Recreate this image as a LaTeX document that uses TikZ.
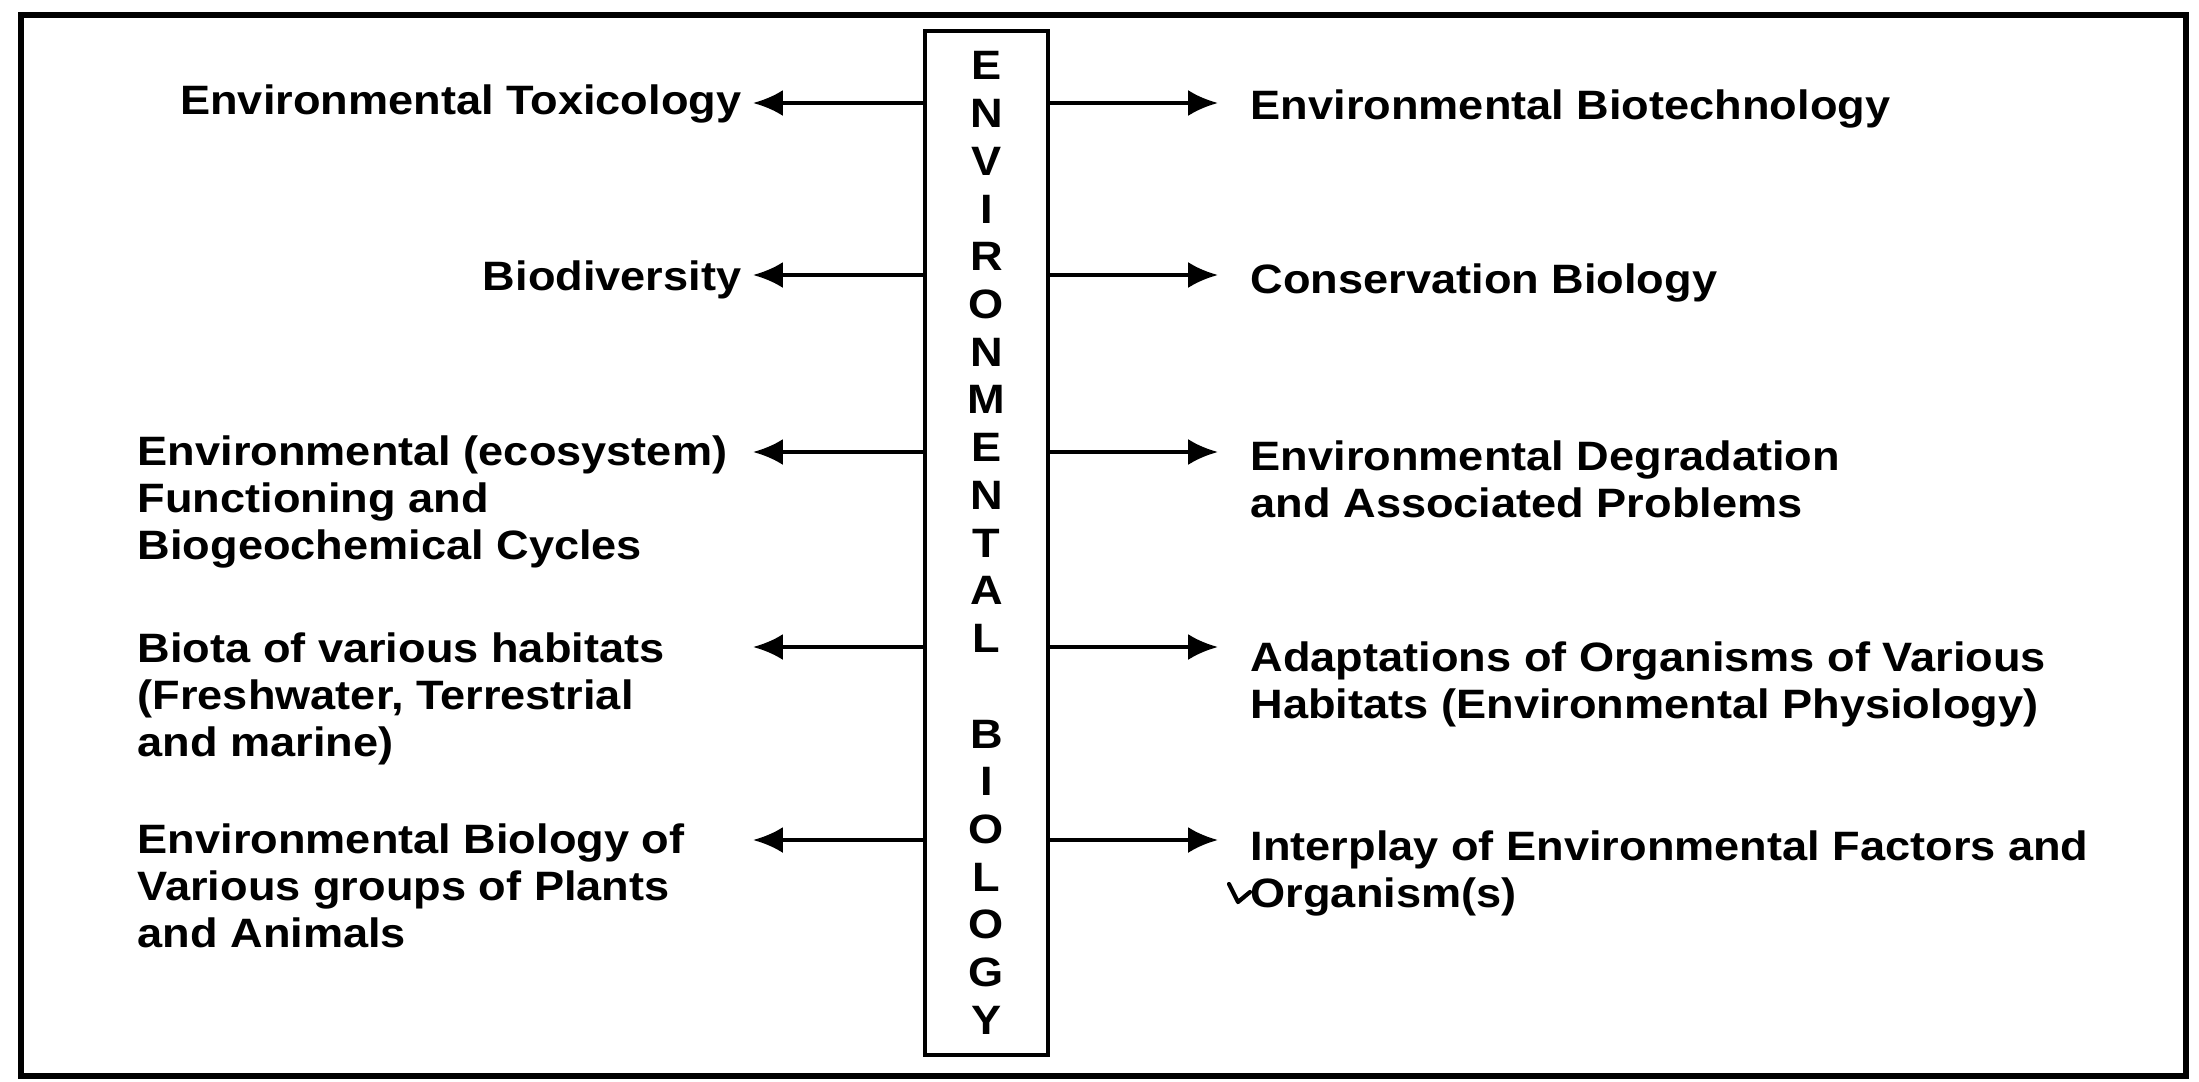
\documentclass[tikz,border=0pt]{standalone}
\usepackage{fontspec}
\newfontfamily\dfont[FakeStretch=1.1]{Liberation Sans Bold}
\usetikzlibrary{arrows.meta}
\begin{document}
\begin{tikzpicture}[x=0.01cm,y=-0.01cm,
  txt/.style={font=\dfont\fontsize{11.67}{13.37}\selectfont, inner sep=0pt, align=left},
  arr/.style={line width=1.15pt, -{Latex[length=8.5pt,width=7.4pt]}},
  frameline/.style={line width=1.6pt},
  boxline/.style={line width=1.2pt}
]
\useasboundingbox (0,0) rectangle (2199,1081);
\fill[white] (0,0) rectangle (2199,1081);
% outer frame
\draw[frameline] (21,15) rectangle (2186,1076);
% central box
\node[draw, boxline, minimum width=1.23cm, minimum height=10.24cm, inner sep=0pt,
      align=center, font=\dfont\fontsize{11.67}{13.57}\selectfont] (bio) at (986.5,543)
  {E\\N\\V\\I\\R\\O\\N\\M\\E\\N\\T\\A\\L\\\mbox{}\\B\\I\\O\\L\\O\\G\\Y};
% left texts
\node[txt, anchor=north east] (l1) at (742,84) {Environmental Toxicology};
\node[txt, anchor=north east] (l2) at (742,260) {Biodiversity};
\node[txt, anchor=north west] (l3) at (137,435) {Environmental (ecosystem)\\Functioning and\\Biogeochemical Cycles};
\node[txt, anchor=north west] (l4) at (137,632) {Biota of various habitats\\(Freshwater, Terrestrial\\and marine)};
\node[txt, anchor=north west] (l5) at (137,823) {Environmental Biology of\\Various groups of Plants\\and Animals};
% right texts
\node[txt, anchor=north west] (r1) at (1250,89) {Environmental Biotechnology};
\node[txt, anchor=north west] (r2) at (1250,263) {Conservation Biology};
\node[txt, anchor=north west] (r3) at (1250,440) {Environmental Degradation\\and Associated Problems};
\node[txt, anchor=north west] (r4) at (1250,641) {Adaptations of Organisms of Various\\Habitats (Environmental Physiology)};
\node[txt, anchor=north west] (r5) at (1250,830) {Interplay of Environmental Factors and\\Organism(s)};
% arrow tips
\coordinate (tl1) at (753,103);
\coordinate (tl2) at (753,275);
\coordinate (tl3) at (753,452);
\coordinate (tl4) at (753,647);
\coordinate (tl5) at (753,840);
\coordinate (tr1) at (1218,103);
\coordinate (tr2) at (1218,275);
\coordinate (tr3) at (1218,452);
\coordinate (tr4) at (1218,647);
\coordinate (tr5) at (1218,840);
\foreach \i in {1,...,5}{
  \draw[arr] (bio.west |- tl\i) -- (tl\i);
  \draw[arr] (bio.east |- tr\i) -- (tr\i);
}
% small mark before Organism(s)
\draw[line width=1.2pt, line cap=round, line join=round] (1229,884) -- (1238,902) -- (1250,892);
\end{tikzpicture}
\end{document}
